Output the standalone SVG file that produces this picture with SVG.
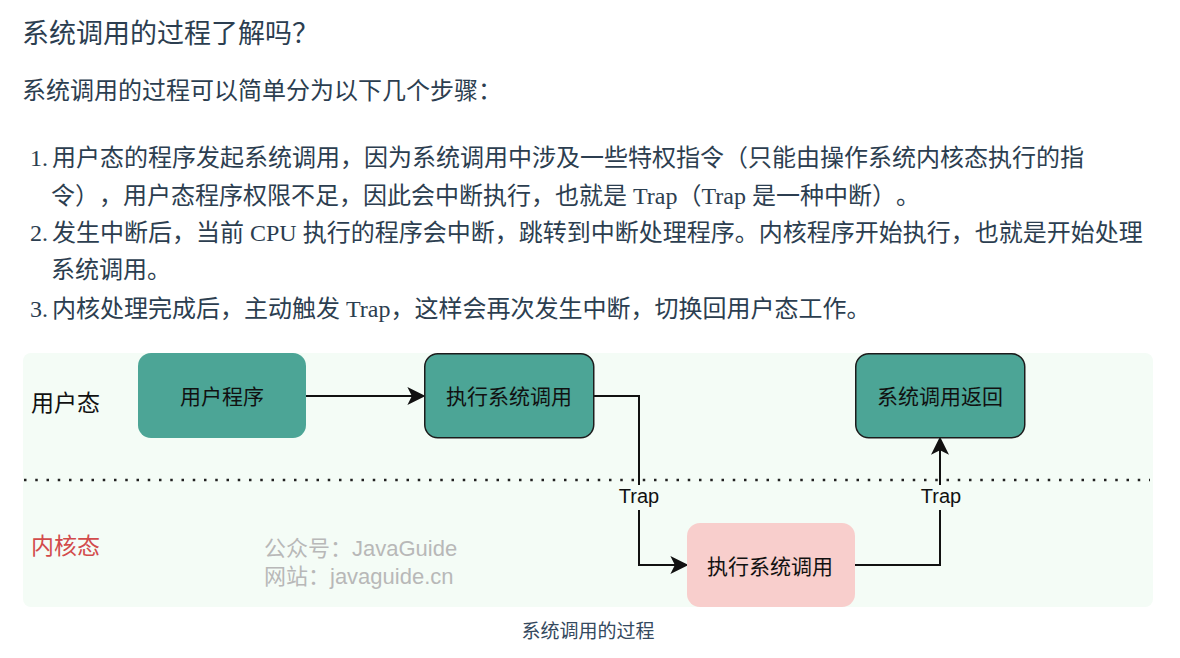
<svg xmlns="http://www.w3.org/2000/svg" width="1180" height="658" viewBox="0 0 1180 658">
<style>
.page{font-family:"Liberation Serif","Noto Sans CJK SC",serif;fill:#2c3e50;font-size:24px;text-spacing-trim:space-all}
.title{font-family:"Noto Sans CJK SC",sans-serif;fill:#2c3e50;font-size:27px}
.sub{font-family:"Noto Sans CJK SC",sans-serif;fill:#2c3e50;font-size:24px}
.cap{font-family:"Noto Sans CJK SC",sans-serif;fill:#34495e;font-size:19px}
.lane{font-family:"Liberation Sans","Noto Sans CJK SC",sans-serif;font-size:23px}
.wm{font-family:"Liberation Sans","Noto Sans CJK SC",sans-serif;font-size:22px;fill:#b8b8b8}
.ntext{font-family:"Liberation Sans","Noto Sans CJK SC",sans-serif;font-size:21px;fill:#111;text-anchor:middle}
.teal{fill:#4ca596}
.dark{stroke:#1c1c1c;stroke-width:1.5}
.pink{fill:#f8cecc}
.conn{fill:none;stroke:#111;stroke-width:2}
.lbl{font-family:"Liberation Sans",Arial,sans-serif;font-size:20px;fill:#111;text-anchor:middle}
.lblbg{fill:#f4fcf6}
</style>
<defs>
<marker id="arr" markerUnits="userSpaceOnUse" markerWidth="18" markerHeight="18" viewBox="0 0 16 16" refX="5" refY="8" orient="auto">
<path d="M0,0 L16,8 L0,16 L4,8 Z" fill="#111"/>
</marker>
</defs>
<rect width="1180" height="658" fill="#ffffff"/>

<g id="article">
<text class="title" x="22" y="43">系统调用的过程了解吗？</text>
<text class="sub" x="22" y="99">系统调用的过程可以简单分为以下几个步骤：</text>
<text class="page" x="48" y="166" text-anchor="end">1.</text>
<text class="page" x="52" y="166">用户态的程序发起系统调用，因为系统调用中涉及一些特权指令（只能由操作系统内核态执行的指</text>
<text class="page" x="51" y="203.5">令），用户态程序权限不足，因此会中断执行，也就是 Trap（Trap 是一种中断）。</text>
<text class="page" x="48" y="241" text-anchor="end">2.</text>
<text class="page" x="52" y="241">发生中断后，当前 CPU 执行的程序会中断，跳转到中断处理程序。内核程序开始执行，也就是开始处理</text>
<text class="page" x="51" y="278">系统调用。</text>
<text class="page" x="48" y="317" text-anchor="end">3.</text>
<text class="page" x="52" y="317">内核处理完成后，主动触发 Trap，这样会再次发生中断，切换回用户态工作。</text>
</g>

<g id="diagram-bg">
<rect x="23" y="353" width="1130" height="254" rx="8" fill="#f4fcf6"/>
<line x1="24" y1="480" x2="1150" y2="480" stroke="#222" stroke-width="2.5" stroke-dasharray="2.5 8.75"/>
<text class="lane" x="31" y="410.5" fill="#111">用户态</text>
<text class="lane" x="31" y="553.5" fill="#d24b4b">内核态</text>
<text class="wm" x="264" y="556">公众号：JavaGuide</text>
<text class="wm" x="264" y="584">网站：javaguide.cn</text>
</g>

<g id="connectors">
<path class="conn" d="M306,396 H413" marker-end="url(#arr)"/>
<path class="conn" d="M594,396 H639 V565 H676" marker-end="url(#arr)"/>
<path class="conn" d="M855,565 H940 V449" marker-end="url(#arr)"/>
<rect class="lblbg" x="615" y="485" width="48" height="25"/>
<text class="lbl" x="639" y="503">Trap</text>
<rect class="lblbg" x="917" y="485" width="48" height="25"/>
<text class="lbl" x="941" y="503">Trap</text>
</g>

<g id="node-user-program">
<rect class="teal" x="138" y="353" width="168" height="85" rx="13"/>
<text class="ntext" x="222" y="404">用户程序</text>
</g>
<g id="node-exec-syscall-user">
<rect class="teal dark" x="424.75" y="353.75" width="169" height="84" rx="13"/>
<text class="ntext" x="509" y="404">执行系统调用</text>
</g>
<g id="node-syscall-return">
<rect class="teal dark" x="855.75" y="353.75" width="169" height="84" rx="13"/>
<text class="ntext" x="940" y="404">系统调用返回</text>
</g>
<g id="node-exec-syscall-kernel">
<rect class="pink" x="687" y="523" width="168" height="84" rx="13"/>
<text class="ntext" x="770" y="574">执行系统调用</text>
</g>

<text class="cap" x="588" y="638" text-anchor="middle">系统调用的过程</text>
</svg>
